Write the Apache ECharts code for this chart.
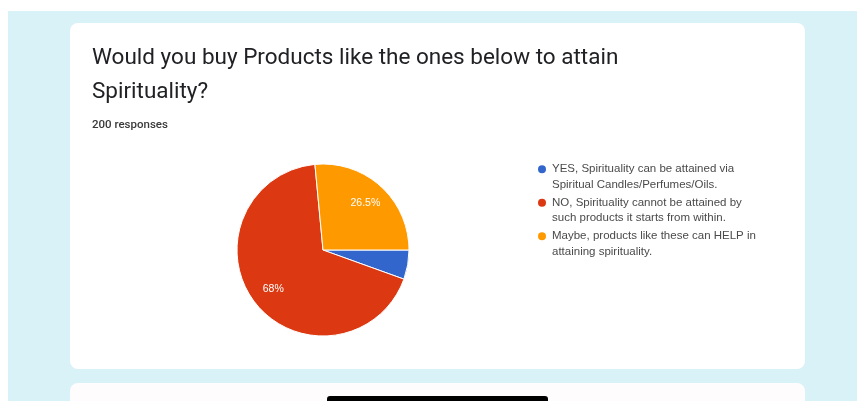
<!DOCTYPE html>
<html>
<head>
<meta charset="utf-8">
<script src="https://cdn.jsdelivr.net/npm/echarts@6/dist/echarts.min.js"></script>
<style>
  html, body { margin: 0; padding: 0; background: #ffffff; }
  #chart { width: 857px; height: 401px; }
</style>
</head>
<body>
<div id="chart"></div>
<script>
// Survey question and response count
const questionTitle = 'Would you buy Products like the ones below to attain\nSpirituality?';
const responseNote = '200 responses';

// Answer options (as shown in the legend) and their share of responses, in %
const answers = [
  'YES, Spirituality can be attained via\nSpiritual Candles/Perfumes/Oils.',
  'NO, Spirituality cannot be attained by\nsuch products it starts from within.',
  'Maybe, products like these can HELP in\nattaining spirituality.'
];
const shares = [5.5, 68, 26.5];
const sliceColors = ['#3366cc', '#dc3912', '#ff9900'];

const pieData = answers.map((name, i) => ({
  name: name,
  value: shares[i],
  itemStyle: { color: sliceColors[i] }
}));

const chart = echarts.init(document.getElementById('chart'), null, { renderer: 'canvas' });

chart.setOption({
  animation: false,
  backgroundColor: '#ffffff',
  graphic: [
    // page backdrop
    { type: 'rect', z: -10, silent: true,
      shape: { x: 8, y: 11, width: 849, height: 390 },
      style: { fill: '#d9f2f7' } },
    // question card
    { type: 'rect', z: -9, silent: true,
      shape: { x: 70, y: 23, width: 735, height: 346, r: 8 },
      style: { fill: '#ffffff' } },
    // next card peeking in
    { type: 'rect', z: -9, silent: true,
      shape: { x: 70, y: 383, width: 735, height: 40, r: 8 },
      style: { fill: '#fefcfd' } },
    // home indicator
    { type: 'rect', z: 10, silent: true,
      shape: { x: 327, y: 396, width: 221, height: 10, r: 3 },
      style: { fill: '#000000' } }
  ],
  title: [
    {
      text: questionTitle,
      left: 92, top: 41, padding: 0,
      textStyle: {
        fontFamily: 'Roboto', fontSize: 22.5, fontWeight: 'normal',
        lineHeight: 34, color: '#202124'
      }
    },
    {
      text: responseNote,
      left: 92, top: 119, padding: 0,
      textStyle: {
        fontFamily: 'Roboto', fontSize: 11.5, fontWeight: 500,
        color: '#3a3a3a'
      }
    }
  ],
  legend: {
    orient: 'vertical',
    left: 536, top: 146,
    padding: 0,
    icon: 'circle',
    itemWidth: 10, itemHeight: 10,
    itemGap: -13,
    selectedMode: false,
    data: answers,
    // a blank first line keeps the marker level with the first text line
    formatter: name => '\n' + name,
    textStyle: {
      fontFamily: 'Liberation Sans, Arial', fontSize: 11.5,
      lineHeight: 15.5, color: '#4a4a4a'
    }
  },
  series: [
    {
      type: 'pie',
      center: [323, 250],
      radius: 86,
      startAngle: 0,
      clockwise: true,
      label: { show: false },
      labelLine: { show: false },
      itemStyle: { borderColor: '#ffffff', borderWidth: 1 },
      emphasis: { disabled: true },
      data: pieData
    },
    {
      // percentage labels, placed further out than the default inside position
      type: 'pie',
      center: [323, 250],
      radius: 120,
      startAngle: 0,
      clockwise: true,
      silent: true,
      z: 5,
      itemStyle: { color: 'rgba(0,0,0,0)' },
      emphasis: { disabled: true },
      labelLine: { show: false },
      label: {
        position: 'inside',
        color: '#ffffff',
        fontFamily: 'Liberation Sans, Arial',
        fontSize: 10.5,
        formatter: p => (p.value >= 10 ? p.value + '%' : '')
      },
      data: answers.map((name, i) => ({ name: name, value: shares[i] }))
    }
  ]
});
</script>
</body>
</html>
